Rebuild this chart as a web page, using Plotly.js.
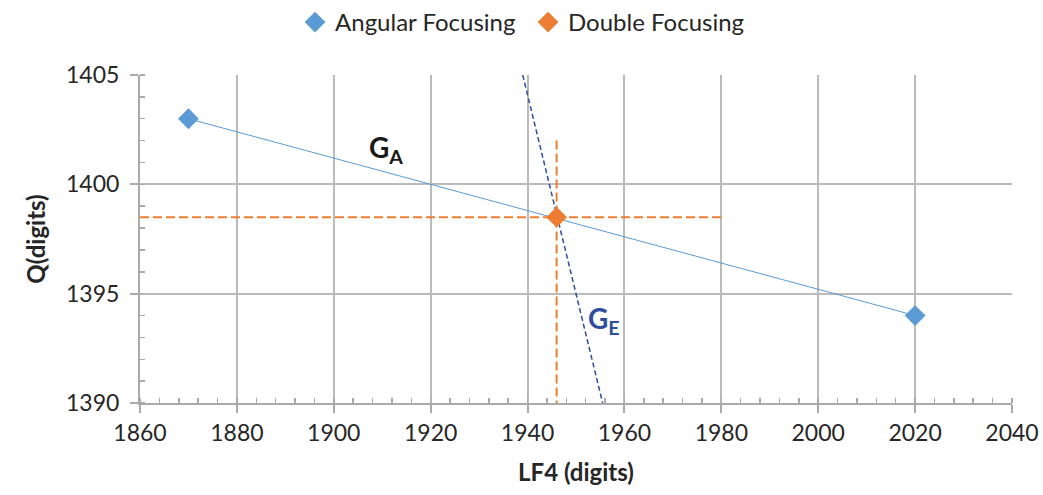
<!DOCTYPE html>
<html><head><meta charset="utf-8">
<script src="https://cdn.plot.ly/plotly-3.0.1.min.js"></script>
<style>html,body{margin:0;padding:0;background:#fff}</style>
</head><body>
<div id="chart" style="width:1043px;height:495px"></div>
<script>
const angularX = [1870, 2020];
const angularY = [1403, 1394];
const doubleX = [1946];
const doubleY = [1398.5];
const hLineX = [1860, 1980];
const hLineY = [1398.5, 1398.5];
const vLineX = [1946, 1946];
const vLineY = [1402, 1390];
const geX = [1939, 1955.5];
const geY = [1405, 1390];
const xTicks = [1860, 1880, 1900, 1920, 1940, 1960, 1980, 2000, 2020, 2040];
const yTicks = [1390, 1395, 1400, 1405];

const font = "Lato, 'Open Sans', sans-serif";
const traces = [
  {x: angularX, y: angularY, mode: 'lines', showlegend: false,
   line: {color: '#5B9BD5', width: 1}},
  {x: hLineX, y: hLineY, mode: 'lines', showlegend: false, line: {color: '#ED7D31', width: 2, dash: '9px,4px'}},
  {x: vLineX, y: vLineY, mode: 'lines', showlegend: false, line: {color: '#ED7D31', width: 2, dash: '9px,4px'}},
  {x: geX, y: geY, mode: 'lines', showlegend: false, line: {color: '#2F4C9E', width: 1.5, dash: '5px,3px'}},
  {x: angularX, y: angularY, mode: 'markers', name: 'Angular Focusing',
   marker: {symbol: 'diamond', size: 16, color: '#5B9BD5'}},
  {x: doubleX, y: doubleY, mode: 'markers', name: 'Double Focusing',
   marker: {symbol: 'diamond', size: 16, color: '#ED7D31'}}
];
const layout = {
  width: 1043, height: 495,
  margin: {l: 140, r: 31, t: 75, b: 92},
  paper_bgcolor: '#fff', plot_bgcolor: '#fff',
  font: {family: font, size: 23, color: '#262626'},
  showlegend: true,
  legend: {orientation: 'h', x: 0.445, xanchor: 'center', y: 1, yref: 'container', yanchor: 'top',
           font: {size: 24, color: '#262626'}, traceorder: 'normal', itemwidth: 30,
           entrywidth: 188},
  xaxis: {range: [1860, 2040], tickvals: xTicks, ticktext: xTicks.map(String),
    showgrid: true, gridcolor: '#BBBBBB', gridwidth: 2, zeroline: false,
    showline: true, linecolor: '#AAAAAA', linewidth: 2,
    ticks: 'outside', ticklen: 8, tickcolor: '#AAAAAA', tickwidth: 2,
    minor: {dtick: 4, ticks: 'inside', ticklen: 5, tickcolor: '#AAAAAA', tickwidth: 1.5, showgrid: false},
    title: {text: '<b>LF4 (digits)</b>', font: {size: 24, color: '#262626'}, standoff: 20}},
  yaxis: {range: [1390, 1405], tickvals: yTicks, ticktext: yTicks.map(String),
    showgrid: true, gridcolor: '#BBBBBB', gridwidth: 2, zeroline: false,
    showline: true, linecolor: '#AAAAAA', linewidth: 2,
    ticks: 'outside', ticklen: 8, tickcolor: '#AAAAAA', tickwidth: 2, ticklabelstandoff: 6,
    minor: {dtick: 1, ticks: 'inside', ticklen: 5, tickcolor: '#AAAAAA', tickwidth: 1.5, showgrid: false},
    title: {text: '<b>Q(digits)</b>', font: {size: 24, color: '#262626'}, standoff: 14}},
  annotations: [
    {x: 1910.8, y: 1401.6, text: '<b>G<sub>A</sub></b>', showarrow: false, font: {size: 28, color: '#1a1a1a'}},
    {x: 1955.8, y: 1393.8, text: '<b>G<sub>E</sub></b>', showarrow: false, font: {size: 28, color: '#2F4C9E'}}
  ]
};
Plotly.newPlot('chart', traces, layout, {displayModeBar: false, staticPlot: true});
</script>
</body></html>
